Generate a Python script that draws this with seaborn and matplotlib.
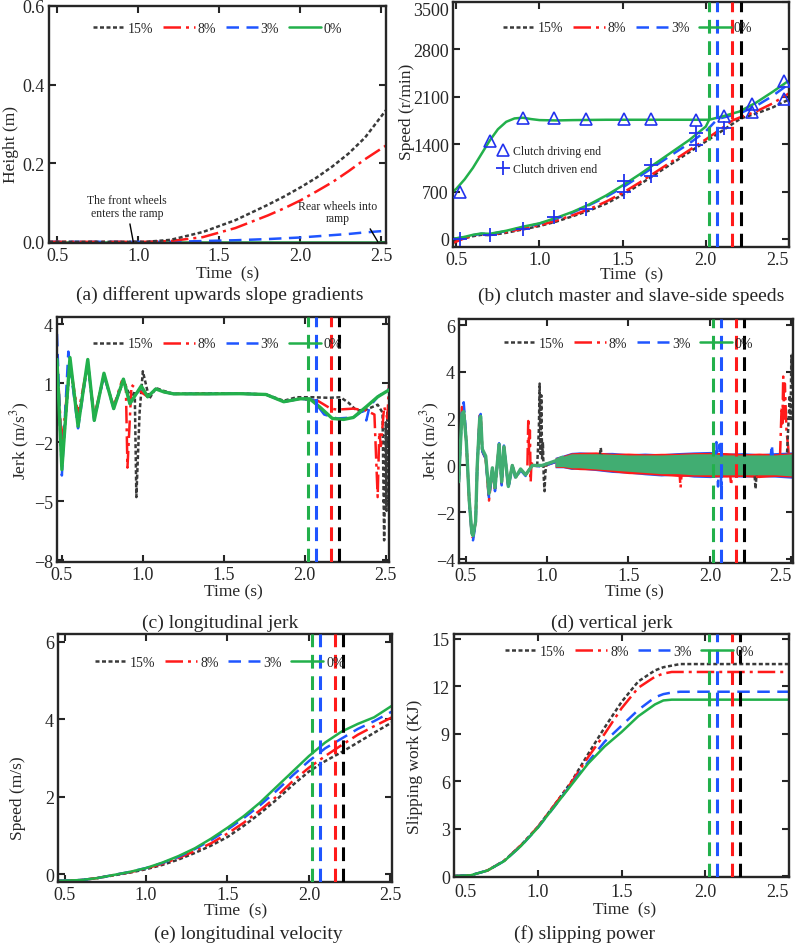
import matplotlib
matplotlib.use('Agg')
import matplotlib.pyplot as plt
from matplotlib.lines import Line2D
import seaborn as sns

sns.set_style('ticks')
plt.rcParams['font.family'] = ['Liberation Serif', 'DejaVu Serif']
plt.rcParams['mathtext.fontset'] = 'stix'

# ---------------- data ----------------
labels = ['15%', '8%', '3%', '0%']
t_lock = [2.21, 2.16, 2.07, 2.02]      # lock-up instants (black, red, blue, green)

# (a) height
a_t = [0.45, 1.05, 1.2, 1.4, 1.6, 1.8, 1.9, 2.0, 2.1, 2.2, 2.3, 2.4, 2.53]
a_black = [0, 0, 0.005, 0.025, 0.055, 0.094, 0.115, 0.138, 0.163, 0.192, 0.225, 0.265, 0.335]
a_red = [0, 0, 0.002, 0.012, 0.035, 0.067, 0.085, 0.105, 0.128, 0.152, 0.18, 0.21, 0.245]
a_blue = [0, 0, 0, 0.002, 0.004, 0.007, 0.009, 0.011, 0.014, 0.017, 0.02, 0.024, 0.028]
a_green = [0, 0, 0, 0, 0, 0, 0, 0, 0, 0, 0, 0, 0]

# (b) clutch speeds
b_t_drive = [0.48, 0.5, 0.55, 0.6, 0.65, 0.7, 0.75, 0.8, 0.85, 0.9, 0.95, 1.0, 1.1, 1.2, 1.4, 1.6, 1.8, 2.0, 2.02]
b_drive = [700, 740, 880, 1050, 1250, 1450, 1620, 1730, 1780, 1790, 1770, 1755, 1750, 1755, 1760, 1760, 1760, 1760, 1760]
b_t_green = [0.48, 0.55, 0.6, 0.65, 0.7, 0.8, 0.9, 1.0, 1.1, 1.2, 1.3, 1.4, 1.5, 1.6, 1.7, 1.8, 1.9, 2.0, 2.02, 2.1, 2.2, 2.3, 2.4, 2.5]
b_green = [0, 30, 60, 80, 75, 120, 180, 230, 310, 400, 510, 640, 790, 950, 1120, 1290, 1460, 1660, 1760, 1810, 1880, 2010, 2170, 2340]
b_t_blue = [0.48, 0.55, 0.6, 0.65, 0.7, 0.8, 0.9, 1.0, 1.1, 1.2, 1.3, 1.4, 1.5, 1.6, 1.7, 1.8, 1.9, 2.0, 2.07, 2.1, 2.2, 2.3, 2.4, 2.5]
b_blue = [0, 25, 55, 75, 70, 115, 170, 225, 300, 390, 500, 620, 760, 920, 1085, 1250, 1410, 1590, 1770, 1790, 1850, 1960, 2110, 2290]
b_t_red = [0.48, 0.55, 0.6, 0.65, 0.7, 0.8, 0.9, 1.0, 1.1, 1.2, 1.3, 1.4, 1.5, 1.6, 1.7, 1.8, 1.9, 2.0, 2.1, 2.16, 2.2, 2.3, 2.4, 2.5]
b_red = [-60, 10, 50, 70, 60, 100, 150, 200, 270, 350, 440, 550, 680, 830, 990, 1150, 1310, 1470, 1640, 1750, 1790, 1880, 2000, 2150]
b_t_black = [0.48, 0.55, 0.6, 0.65, 0.7, 0.8, 0.9, 1.0, 1.1, 1.2, 1.3, 1.4, 1.5, 1.6, 1.7, 1.8, 1.9, 2.0, 2.1, 2.21, 2.3, 2.4, 2.5]
b_black = [-30, 10, 40, 60, 55, 90, 140, 190, 255, 335, 420, 520, 650, 800, 960, 1120, 1280, 1440, 1600, 1780, 1850, 1940, 2060]
b_tri_t = [0.52, 0.70, 0.90, 1.09, 1.28, 1.51, 1.67, 1.94, 2.11, 2.28, 2.28, 2.47, 2.47]
b_tri = [686, 1445, 1790, 1790, 1775, 1775, 1775, 1760, 1810, 1990, 1870, 2330, 2070]
b_plus_t = [0.52, 0.70, 0.90, 1.09, 1.28, 1.51, 1.51, 1.67, 1.67, 1.94, 1.94, 2.11]
b_plus = [0, 50, 147, 319, 441, 857, 686, 1092, 930, 1568, 1386, 1642]

# (c) longitudinal jerk
c_t_green = [0.47, 0.50, 0.55, 0.60, 0.66, 0.70, 0.76, 0.82, 0.88, 0.92, 0.99, 1.03, 1.08, 1.13, 1.19, 1.4, 1.6, 1.76,
             1.87, 1.97, 2.03, 2.09, 2.17, 2.24, 2.30, 2.38, 2.45, 2.52]
c_green = [2.2, -3.4, 2.3, -1.2, 2.2, -0.9, 1.5, -0.3, 1.2, -0.05, 0.85, 0.3, 0.7, 0.55, 0.45, 0.45, 0.46, 0.42,
           0.05, 0.2, 0.2, -0.2, -0.8, -0.85, -0.75, -0.2, 0.3, 0.65]
c_t_blue = [0.47, 0.50, 0.54, 0.60, 0.66, 0.70, 0.76, 0.82, 0.88, 0.92, 0.99, 1.03, 1.08, 1.13, 1.19, 1.4, 1.6, 1.76,
            1.87, 1.97, 2.05, 2.12, 2.2, 2.3, 2.36, 2.38, 2.4, 2.45, 2.52]
c_blue = [3.5, -3.7, 2.6, -1.3, 2.1, -0.9, 1.4, -0.3, 1.2, -0.05, 0.8, 0.3, 0.7, 0.55, 0.45, 0.45, 0.46, 0.42,
          0.05, 0.2, 0.15, -0.6, -0.8, -0.75, -0.4, -0.9, -0.2, 0.3, 0.7]
c_t_red = [0.47, 0.50, 0.55, 0.60, 0.66, 0.70, 0.76, 0.82, 0.87, 0.895, 0.905, 0.93, 0.98, 1.03, 1.08, 1.13, 1.19, 1.4,
           1.6, 1.76, 1.87, 1.97, 2.08, 2.16, 2.2, 2.3, 2.38, 2.43, 2.45, 2.46, 2.47, 2.49, 2.51, 2.52]
c_red = [2.3, -2.2, 2.0, -0.6, 2.0, -0.7, 1.4, -0.2, 1.1, 0.9, -3.3, 0.9, 0.6, 0.3, 0.7, 0.55, 0.45, 0.45,
         0.46, 0.42, 0.05, 0.2, 0.1, -0.3, -0.35, -0.3, -0.4, -0.6, -4.8, -1.5, -2.2, -0.2, -0.8, 0.9]
c_t_black = [0.47, 0.50, 0.55, 0.60, 0.66, 0.70, 0.76, 0.82, 0.88, 0.93, 0.95, 0.96, 0.98, 1.0, 1.04, 1.08, 1.13, 1.19,
             1.4, 1.6, 1.76, 1.87, 1.95, 2.05, 2.15, 2.22, 2.27, 2.32, 2.38, 2.45, 2.48, 2.49, 2.50, 2.505, 2.51, 2.515, 2.52]
c_black = [2.0, -3.2, 2.0, -1.0, 2.0, -0.8, 1.4, -0.2, 1.1, 0.2, 0.6, -4.8, -0.5, 1.6, 0.2, 0.75, 0.6, 0.45,
           0.48, 0.47, 0.42, 0.1, 0.28, 0.28, 0.25, 0.28, 0.0, -0.4, -0.35, -0.1, -0.5, -7.0, -1.0, -5.5, -0.5, -3.5, 0.0]

# (d) vertical jerk: early oscillation
d_t = [0.458, 0.478, 0.489, 0.505, 0.523, 0.539, 0.546, 0.562, 0.572, 0.587, 0.593, 0.603, 0.624, 0.644,
       0.665, 0.681, 0.706, 0.722, 0.736, 0.763, 0.787, 0.808, 0.838, 0.869, 0.910, 0.971, 1.053, 1.094]
d_green = [-0.7, 2.2, 2.3, 1.0, -1.5, -2.9, -3.0, -2.4, 0.0, 2.0, 2.1, 0.7, 0.4, -1.2,
           -0.1, -0.95, 0.9, -0.7, 0.8, -0.9, 0.0, -0.5, -0.15, -0.4, 0.0, 0.0, 0.2, 0.35]
d_blue = [-0.8, 2.4, 2.7, 1.1, -1.6, -3.0, -3.2, -2.5, 0.0, 2.1, 2.2, 0.6, 0.3, -1.4,
          -0.2, -1.1, 0.95, -0.85, 0.85, -1.0, 0.0, -0.6, -0.2, -0.45, 0.0, -0.05, 0.15, 0.3]
d_red = [-0.7, 2.5, 2.4, 1.0, -1.6, -3.0, -3.1, -2.4, 0.0, 2.2, 2.1, 0.6, 0.3, -1.5,
         -0.2, -1.0, 0.9, -0.8, 0.8, -0.9, 0.0, -0.5, -0.2, -0.4, 0.0, -0.05, 0.15, 0.3]
d_black = [-0.7, 2.3, 2.4, 1.0, -1.5, -2.9, -3.0, -2.4, 0.0, 2.0, 2.1, 0.6, 0.3, -1.3,
           -0.1, -1.0, 0.9, -0.75, 0.8, -0.9, 0.0, -0.5, -0.2, -0.4, 0.0, 0.0, 0.15, 0.3]
# (d) envelope of the dense high-frequency part
d_band_t = [1.05, 1.1, 1.15, 1.2, 1.3, 1.4, 1.5, 1.6, 1.7, 1.8, 1.9, 2.0, 2.1, 2.2, 2.3, 2.4, 2.51]
d_green_up = [0.3, 0.4, 0.5, 0.5, 0.5, 0.48, 0.45, 0.45, 0.45, 0.47, 0.5, 0.5, 0.45, 0.45, 0.45, 0.45, 0.5]
d_green_lo = [-0.05, -0.05, -0.1, -0.1, -0.15, -0.2, -0.25, -0.3, -0.35, -0.35, -0.4, -0.4, -0.4, -0.4, -0.4, -0.4, -0.45]
d_blue_up = [0.35, 0.45, 0.56, 0.58, 0.55, 0.56, 0.5, 0.53, 0.5, 0.55, 0.58, 0.6, 0.52, 0.55, 0.5, 0.55, 0.58]
d_blue_lo = [-0.1, -0.1, -0.17, -0.15, -0.22, -0.3, -0.33, -0.4, -0.45, -0.42, -0.5, -0.52, -0.47, -0.5, -0.48, -0.5, -0.55]
d_red_up = [0.33, 0.43, 0.54, 0.56, 0.58, 0.52, 0.53, 0.5, 0.52, 0.52, 0.55, 0.56, 0.55, 0.5, 0.53, 0.5, 0.55]
d_red_lo = [-0.08, -0.09, -0.15, -0.18, -0.2, -0.27, -0.35, -0.37, -0.42, -0.47, -0.46, -0.48, -0.5, -0.47, -0.52, -0.47, -0.5]
# (d) spikes
d_spk_black_t = [0.94, 0.95, 0.955, 0.96, 0.965, 0.97, 0.975, 0.98, 0.985, 0.99, 1.0]
d_spk_black = [0.0, 1.5, 3.5, 0.5, 3.0, 0.3, 1.0, -0.5, -1.1, -0.3, 0.2]
d_spk_red_t = [0.88, 0.885, 0.89, 0.895, 0.9, 0.905, 0.91]
d_spk_red = [0.0, 1.9, 0.5, 1.5, -0.7, 0.2, 0.0]
d_end_red_t = [2.43, 2.44, 2.445, 2.45, 2.455, 2.46, 2.47, 2.48, 2.49, 2.5, 2.51]
d_end_red = [0.3, 2.5, 1.8, 3.8, 2.0, 3.5, 1.5, 0.8, -0.2, 0.5, 0.0]
d_end_black_t = [2.47, 2.48, 2.49, 2.495, 2.5, 2.505, 2.51]
d_end_black = [0.0, 1.5, 3.0, 2.0, 4.7, 3.5, 4.8]
d_spk_blue_t = [2.03, 2.04, 2.05, 2.06, 2.07, 2.08, 2.37, 2.38, 2.39]
d_spk_blue = [0.1, 1.0, -0.9, 0.9, -0.85, 0.1, 0.1, 0.9, 0.0]
d_spk_red2_t = [1.81, 1.82, 1.83, 2.12, 2.13, 2.14]
d_spk_red2 = [0.0, -0.95, 0.0, 0.0, -0.85, 0.0]
d_spk_black2_t = [1.32, 1.33, 1.34, 2.27, 2.28, 2.29]
d_spk_black2 = [0.2, 0.75, 0.2, 0.0, -1.0, 0.0]

# (e) longitudinal velocity
e_t = [0.46, 0.6, 0.7, 0.8, 0.9, 1.0, 1.1, 1.2, 1.3, 1.4, 1.5, 1.6, 1.7, 1.8, 1.9, 2.0, 2.1, 2.2, 2.3, 2.4, 2.51]
e_green = [-0.17, -0.15, -0.1, -0.02, 0.06, 0.16, 0.3, 0.47, 0.67, 0.92, 1.2, 1.5, 1.85, 2.25, 2.65, 3.05, 3.4, 3.68, 3.88, 4.05, 4.35]
e_blue = [-0.17, -0.15, -0.1, -0.02, 0.06, 0.16, 0.29, 0.45, 0.65, 0.88, 1.15, 1.45, 1.78, 2.15, 2.55, 2.92, 3.25, 3.5, 3.75, 3.95, 4.2]
e_red = [-0.17, -0.15, -0.1, -0.02, 0.05, 0.15, 0.27, 0.42, 0.6, 0.8, 1.05, 1.33, 1.65, 2.0, 2.4, 2.75, 3.05, 3.33, 3.6, 3.82, 4.05]
e_black = [-0.17, -0.15, -0.1, -0.03, 0.04, 0.13, 0.24, 0.38, 0.55, 0.74, 0.96, 1.25, 1.57, 1.92, 2.3, 2.65, 2.92, 3.15, 3.4, 3.65, 3.92]

# (f) slipping work
f_t = [0.5, 0.6, 0.7, 0.8, 0.9, 1.0, 1.1, 1.2, 1.3, 1.4, 1.5, 1.6, 1.7, 1.75, 1.8, 1.85, 2.5]
f_green = [0, 0.05, 0.35, 0.95, 1.9, 3.05, 4.4, 5.75, 7.1, 8.2, 9.1, 10.1, 10.85, 11.1, 11.15, 11.15, 11.15]
f_blue = [0, 0.05, 0.35, 0.95, 1.9, 3.05, 4.4, 5.8, 7.2, 8.5, 9.5, 10.5, 11.3, 11.5, 11.6, 11.65, 11.65]
f_red = [0, 0.05, 0.35, 0.97, 1.95, 3.1, 4.5, 5.9, 7.5, 9.0, 10.6, 11.9, 12.6, 12.8, 12.9, 12.9, 12.9]
f_black = [0, 0.05, 0.35, 0.97, 1.95, 3.1, 4.5, 5.95, 7.7, 9.4, 11.0, 12.3, 13.0, 13.2, 13.3, 13.4, 13.4]

# ---------------- styles ----------------
BLACK, RED, BLUE, GREEN = '#3a3a3a', '#ff1a1a', '#1f55ff', '#22b04b'
BAND_GREEN = '#41ad72'
colors = [BLACK, RED, BLUE, GREEN]
vcolors = ['#000000', RED, BLUE, GREEN]
dashes = [(0, (1.6, 1.0)), (0, (7, 2, 1.2, 2)), (0, (5, 3)), '-']
LW = 1.8

fig = plt.figure(figsize=(7.96, 9.45), dpi=100)


def px_axes(l, t, r, b):
    return fig.add_axes([l / 796, 1 - b / 945, (r - l) / 796, (b - t) / 945])


def style_axes(ax, xlim, ylim, yticks, xlabel, ylabel, xl_pos, yl_pos, xticks=(0.5, 1.0, 1.5, 2.0, 2.5)):
    ax.set_xlim(*xlim)
    ax.set_ylim(*ylim)
    ax.set_xticks(xticks)
    ax.set_xticklabels(['%.1f' % v for v in xticks])
    ax.set_yticks(yticks)
    ax.tick_params(direction='in', top=True, right=True, length=5, width=1.5,
                   labelsize=13, pad=3)
    for s in ax.spines.values():
        s.set_linewidth(1.7)
    ax.set_xlabel(xlabel, fontsize=12.5)
    ax.set_ylabel(ylabel, fontsize=12.5)
    # label coords: x label -> top edge, y label -> right edge
    ax.xaxis.set_label_coords(*xl_pos)
    ax.yaxis.set_label_coords(*yl_pos)


def right_edge_label(ax):
    ax.get_xticklabels()[-1].set_horizontalalignment('right')
    ax.get_xticklabels()[-1].set_x(2.515)


def curve(ax, t, v, i, lw=LW, z=2):
    sns.lineplot(x=t, y=v, ax=ax, color=colors[i], linestyle=dashes[i], lw=lw,
                 estimator=None, sort=False, zorder=z)


def lock_lines(ax):
    for tv, c in zip(t_lock, vcolors):
        ax.axvline(tv, color=c, lw=2.2, linestyle=(0, (4.5, 2.5)), zorder=4)


def add_legend(ax, x, y):
    hs = [Line2D([], [], color=c, linestyle=d, lw=LW) for c, d in zip(colors, dashes)]
    leg = ax.legend(hs, labels, loc='center', bbox_to_anchor=(x, y), ncol=4, frameon=False,
                    fontsize=10, handlelength=2.3, handletextpad=0.2, columnspacing=0.7,
                    borderpad=0, borderaxespad=0)
    return leg


# ---------------- (a) ----------------
ax = px_axes(49, 7, 386, 244)
curve(ax, a_t, a_green, 3)
curve(ax, a_t, a_blue, 2)
curve(ax, a_t, a_red, 1)
curve(ax, a_t, a_black, 0)
style_axes(ax, (0.45, 2.53), (-0.003, 0.6), [0.0, 0.2, 0.4, 0.6], 'Time  (s)', 'Height (m)',
           (0.53, -0.093), (-0.089, 0.42))
ax.set_yticklabels(['0.0', '0.2', '0.4', '0.6'])
add_legend(ax, 0.5, 0.907)
ax.annotate('The front wheels\nenters the ramp', xy=(0.97, 0.0), xytext=(0.93, 0.089),
            ha='center', va='center', fontsize=8.5, linespacing=1.1,
            arrowprops=dict(arrowstyle='-', lw=1, color='black', shrinkA=1, shrinkB=0))
ax.annotate('Rear wheels into\nramp', xy=(2.48, 0.0), xytext=(2.23, 0.076),
            ha='center', va='center', fontsize=8.5, linespacing=1.1,
            arrowprops=dict(arrowstyle='-', lw=1, color='black', shrinkA=1, shrinkB=0,
                            relpos=(0.88, 0.0)))
fig.text(220 / 796, 1 - 295 / 945, '(a) different upwards slope gradients', ha='center', va='center', fontsize=14)

# ---------------- (b) ----------------
ax = px_axes(453, 3, 789, 248)
curve(ax, b_t_black, b_black, 0)
curve(ax, b_t_red, b_red, 1)
curve(ax, b_t_blue, b_blue, 2)
curve(ax, b_t_green, b_green, 3)
curve(ax, b_t_drive, b_drive, 3)
ax.plot(b_tri_t, b_tri, ls='none', marker='^', ms=8, mfc='none', mec='#2233ee', mew=1.2, zorder=3)
ax.plot(b_plus_t, b_plus, ls='none', marker='+', ms=10, mec='#2233ee', mew=1.3, zorder=3)
lock_lines(ax)
style_axes(ax, (0.48, 2.5), (-120, 3500), [0, 700, 1400, 2100, 2800, 3500], 'Time  (s)', 'Speed (r/min)',
           (0.531, -0.08), (-0.113, 0.555))
ax.get_yticklabels()[-1].set_verticalalignment('top')
right_edge_label(ax)
leg1 = add_legend(ax, 0.52, 0.894)
ax.add_artist(leg1)
mk = [Line2D([], [], ls='none', marker='^', ms=8, mfc='none', mec='#2233ee', mew=1.2),
      Line2D([], [], ls='none', marker='+', ms=10, mec='#2233ee', mew=1.3)]
ax.legend(mk, ['Clutch driving end', 'Clutch driven end'], loc='upper left', bbox_to_anchor=(0.13, 0.415),
          frameon=False, fontsize=8.5, handlelength=1.0, handletextpad=0.35, labelspacing=0.5,
          borderpad=0, borderaxespad=0)
fig.text(631 / 796, 1 - 296 / 945, '(b) clutch master and slave-side speeds', ha='center', va='center', fontsize=14)

# ---------------- (c) ----------------
ax = px_axes(57, 318, 389, 563)
curve(ax, c_t_black, c_black, 0)
curve(ax, c_t_red, c_red, 1)
curve(ax, c_t_blue, c_blue, 2)
curve(ax, c_t_green, c_green, 3, lw=2.4, z=3)
lock_lines(ax)
style_axes(ax, (0.47, 2.52), (-8.1, 4.36), [4, 1, -2, -5, -8], 'Time (s)', 'Jerk (m/s$^3$)',
           (0.53, -0.086), (-0.074, 0.5))
add_legend(ax, 0.483, 0.89)
fig.text(220 / 796, 1 - 623 / 945, '(c) longitudinal jerk', ha='center', va='center', fontsize=14)

# ---------------- (d) ----------------
ax = px_axes(459, 320, 793, 564)
ax.fill_between(d_band_t, d_blue_lo, d_blue_up, color=BLUE, lw=0, zorder=1.5)
ax.fill_between(d_band_t, d_red_lo, d_red_up, color=RED, lw=0, zorder=1.6)
curve(ax, d_spk_black2_t, d_spk_black2, 0)
curve(ax, d_spk_red2_t, d_spk_red2, 1)
curve(ax, d_spk_blue_t, d_spk_blue, 2)
ax.fill_between(d_band_t, d_green_lo, d_green_up, color=BAND_GREEN, lw=0, zorder=2.5)
curve(ax, d_t, d_black, 0)
curve(ax, d_t, d_red, 1)
curve(ax, d_t, d_blue, 2)
curve(ax, d_spk_black_t, d_spk_black, 0)
curve(ax, d_spk_red_t, d_spk_red, 1)
curve(ax, d_end_red_t, d_end_red, 1)
curve(ax, d_end_black_t, d_end_black, 0)
sns.lineplot(x=d_t, y=d_green, ax=ax, color=BAND_GREEN, lw=2.4, estimator=None, sort=False, zorder=3)
lock_lines(ax)
style_axes(ax, (0.46, 2.51), (-4.17, 6.26), [-4, -2, 0, 2, 4, 6], 'Time (s)', 'Jerk (m/s$^3$)',
           (0.525, -0.082), (-0.052, 0.504))
right_edge_label(ax)
add_legend(ax, 0.508, 0.9)
fig.text(612 / 796, 1 - 623 / 945, '(d) vertical jerk', ha='center', va='center', fontsize=14)

# ---------------- (e) ----------------
ax = px_axes(58, 635, 392, 883)
curve(ax, e_t, e_black, 0)
curve(ax, e_t, e_red, 1)
curve(ax, e_t, e_blue, 2)
curve(ax, e_t, e_green, 3)
lock_lines(ax)
style_axes(ax, (0.46, 2.51), (-0.2, 6.2), [0, 2, 4, 6], 'Time  (s)', 'Speed (m/s)',
           (0.532, -0.083), (-0.097, 0.343))
add_legend(ax, 0.485, 0.886)
fig.text(248 / 796, 1 - 934 / 945, '(e) longitudinal velocity', ha='center', va='center', fontsize=14)

# ---------------- (f) ----------------
ax = px_axes(454, 635, 789, 878)
curve(ax, f_t, f_black, 0)
curve(ax, f_t, f_red, 1)
curve(ax, f_t, f_blue, 2)
curve(ax, f_t, f_green, 3)
lock_lines(ax)
style_axes(ax, (0.5, 2.5), (-0.06, 15.3), [0, 3, 6, 9, 12, 15], 'Time  (s)', 'Slipping work (KJ)',
           (0.508, -0.1), (-0.092, 0.457))
ax.tick_params(axis='x', pad=4.5)
ax.get_yticklabels()[0].set_verticalalignment('center_baseline')
ax.get_xticklabels()[0].set_horizontalalignment('left')
ax.get_xticklabels()[0].set_x(0.49)
right_edge_label(ax)
add_legend(ax, 0.525, 0.929)
fig.text(585 / 796, 1 - 934 / 945, '(f) slipping power', ha='center', va='center', fontsize=14)

fig.savefig('out.png', dpi=100)
